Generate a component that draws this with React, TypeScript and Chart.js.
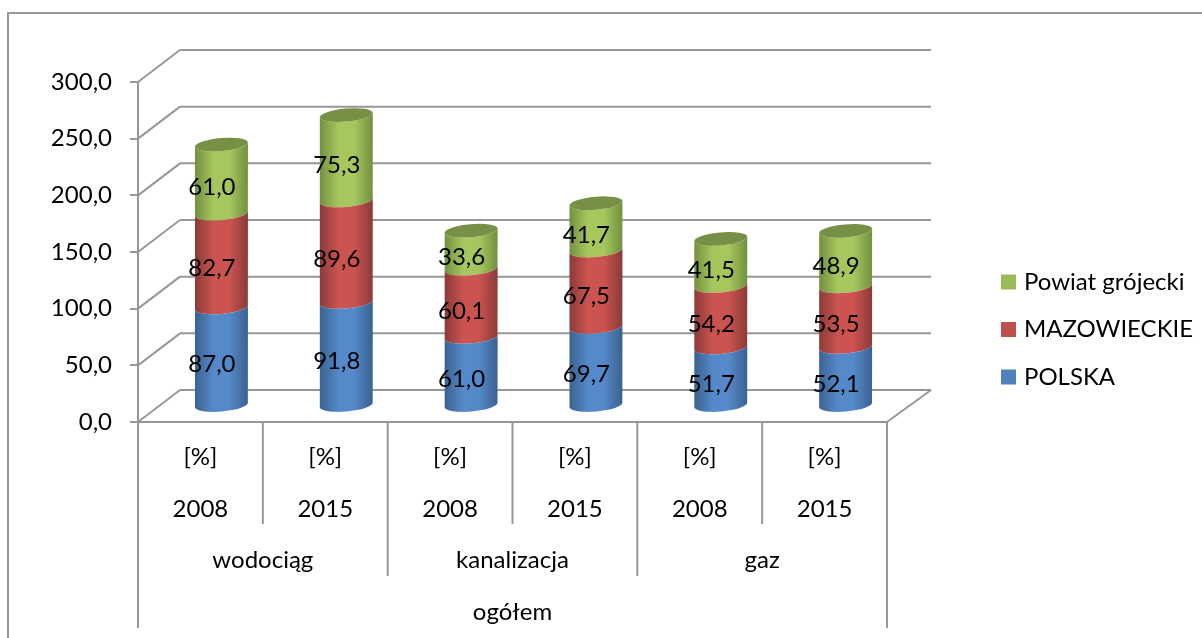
import React, { useEffect, useRef } from "react";
import { Chart, registerables } from "chart.js";

Chart.register(...registerables);

const years = ["2008", "2015", "2008", "2015", "2008", "2015"];
const unitLabel = "[%]";
const groups = ["wodociąg", "kanalizacja", "gaz"];
const outerGroup = "ogółem";
const polska = [87.0, 91.8, 61.0, 69.7, 51.7, 52.1];
const mazowieckie = [82.7, 89.6, 60.1, 67.5, 54.2, 53.5];
const powiat = [61.0, 75.3, 33.6, 41.7, 41.5, 48.9];

const FONT = "Lato, Carlito, sans-serif";
const FONT_SIZE = 24;
const GRAY = "#979797";
const DEPTH_X = 42;
const DEPTH_Y = 32;
const TILT = (-5 * Math.PI) / 180;
const RY = 6.5;

const shades = [
  { edge: "#39628f", mid: "#5589c9" },
  { edge: "#8b3a38", mid: "#cb5450" },
  { edge: "#72903f", mid: "#a5c75e" },
];
const capColor = "#769145";

const fmt = (v: number) => v.toFixed(1).replace(".", ",");

function line(ctx: CanvasRenderingContext2D, x1: number, y1: number, x2: number, y2: number) {
  ctx.beginPath();
  ctx.moveTo(x1, y1);
  ctx.lineTo(x2, y2);
  ctx.stroke();
}

const scene = {
  id: "scene",
  afterLayout(chart: any) {
    const lg = chart.legend;
    if (lg) {
      const pad = lg.options.labels.padding;
      lg.left = 1005 - pad;
      lg.right = 1195;
      lg.top = 282 - FONT_SIZE / 2 - pad;
      lg.bottom = 420;
    }
  },
  beforeDraw(chart: any) {
    const { ctx } = chart;
    ctx.save();
    ctx.strokeStyle = GRAY;
    ctx.lineWidth = 2;
    ctx.beginPath();
    ctx.moveTo(8, 638);
    ctx.lineTo(8, 13);
    ctx.lineTo(1202, 13);
    ctx.stroke();
    ctx.restore();
  },
  beforeDatasetsDraw(chart: any) {
    const { ctx, scales } = chart;
    const { x: xs, y: ys } = scales;
    const left = xs.left;
    const right = xs.right;
    const bottom = ys.bottom;

    ctx.save();
    ctx.strokeStyle = GRAY;
    ctx.lineWidth = 2;
    // back wall and side wall
    ys.ticks.forEach((t: any) => {
      const y = ys.getPixelForValue(t.value);
      line(ctx, left, y, left + DEPTH_X, y - DEPTH_Y);
      line(ctx, left + DEPTH_X, y - DEPTH_Y, right + DEPTH_X + 2, y - DEPTH_Y);
    });
    // floor
    line(ctx, right, bottom, right + DEPTH_X + 2, bottom - DEPTH_Y);
    // category dividers
    const unit = (right - left) / years.length;
    for (let i = 1; i < years.length; i++) {
      const x = left + unit * i;
      line(ctx, x, bottom, x, i % 2 === 0 ? 576 : 524);
    }
    line(ctx, left, bottom, left, 628);
    line(ctx, right, bottom, right, 628);
    line(ctx, left, bottom, right, bottom);
    ctx.restore();

    // group labels
    ctx.save();
    ctx.fillStyle = "#000";
    ctx.font = `${FONT_SIZE}px ${FONT}`;
    ctx.textAlign = "center";
    ctx.textBaseline = "middle";
    groups.forEach((g, i) => {
      ctx.fillText(g, left + unit * (2 * i + 1), 560);
    });
    ctx.fillText(outerGroup, (left + right) / 2, 612);
    ctx.restore();

    // cylinders: top series first, so lower ones overlap their arc
    for (let d = chart.data.datasets.length - 1; d >= 0; d--) {
      const meta = chart.getDatasetMeta(d);
      meta.data.forEach((el: any) => {
        const cx = el.x + DEPTH_X / 2;
        const rx = el.width / 2;
        const top = el.y - DEPTH_Y / 2;
        const base = el.base - DEPTH_Y / 2;
        const dy = rx * Math.sin(TILT);
        const grad = ctx.createLinearGradient(cx - rx, 0, cx + rx, 0);
        grad.addColorStop(0, shades[d].edge);
        grad.addColorStop(0.35, shades[d].mid);
        grad.addColorStop(0.65, shades[d].mid);
        grad.addColorStop(1, shades[d].edge);
        ctx.save();
        ctx.fillStyle = grad;
        ctx.beginPath();
        ctx.ellipse(cx, base, rx, RY, TILT, Math.PI, 0, true);
        ctx.lineTo(cx + rx, top + dy);
        ctx.ellipse(cx, top, rx, RY, TILT, 0, Math.PI, false);
        ctx.closePath();
        ctx.fill();
        if (d === chart.data.datasets.length - 1) {
          ctx.fillStyle = capColor;
          ctx.beginPath();
          ctx.ellipse(cx, top, rx, RY, TILT, 0, Math.PI * 2);
          ctx.fill();
        }
        ctx.restore();
      });
    }

    // data labels
    ctx.save();
    ctx.fillStyle = "#000";
    ctx.font = `${FONT_SIZE}px ${FONT}`;
    ctx.textAlign = "center";
    ctx.textBaseline = "middle";
    chart.data.datasets.forEach((ds: any, d: number) => {
      chart.getDatasetMeta(d).data.forEach((el: any, i: number) => {
        const mid = (el.y + el.base) / 2 - DEPTH_Y / 2 + 8;
        ctx.fillText(fmt(ds.data[i]), el.x + DEPTH_X / 2 - 9.5, mid);
      });
    });
    ctx.restore();
    return false;
  },
};

export default function App() {
  const ref = useRef<HTMLCanvasElement>(null);
  useEffect(() => {
    const chart = new Chart(ref.current as HTMLCanvasElement, {
      type: "bar",
      plugins: [scene],
      data: {
        labels: years.map((y) => [unitLabel, y]),
        datasets: [
          { label: "POLSKA", data: polska, backgroundColor: "#4F81BD" },
          { label: "MAZOWIECKIE", data: mazowieckie, backgroundColor: "#C0504D" },
          { label: "Powiat grójecki", data: powiat, backgroundColor: "#9BBB59" },
        ],
      },
      options: {
        responsive: false,
        animation: false,
        devicePixelRatio: 1,
        layout: { padding: { left: 0, top: 82, right: 315, bottom: 0 } },
        datasets: { bar: { categoryPercentage: 1, barPercentage: 0.425 } },
        scales: {
          x: {
            stacked: true,
            grid: { display: false },
            border: { display: false },
            afterFit: (s: any) => {
              s.height = 216;
            },
            ticks: {
              color: "#000",
              maxRotation: 0,
              autoSkip: false,
              padding: 1,
              font: { family: FONT, size: FONT_SIZE, lineHeight: 52 / FONT_SIZE },
            },
          },
          y: {
            stacked: true,
            min: 0,
            max: 300,
            afterFit: (s: any) => {
              s.width = 138;
            },
            grid: { drawOnChartArea: false, color: GRAY, lineWidth: 2, tickLength: 8 },
            border: { color: GRAY, width: 2 },
            ticks: {
              stepSize: 50,
              color: "#000",
              padding: 18,
              font: { family: FONT, size: FONT_SIZE },
              callback: (v: any) => fmt(Number(v)),
            },
          },
        },
        plugins: {
          tooltip: { enabled: false },
          title: { display: false },
          legend: {
            position: "chartArea",
            align: "start",
            reverse: true,
            labels: {
              usePointStyle: true,
              pointStyle: "rect",
              boxWidth: 7,
              boxHeight: 15,
              padding: 23.5,
              color: "#000",
              font: { family: FONT, size: FONT_SIZE },
            },
          },
        },
      },
    } as any);
    return () => chart.destroy();
  }, []);
  return (
    <div style={{ position: "absolute", left: 0, top: 0, width: 1202, height: 638, background: "#fff" }}>
      <canvas ref={ref} width={1202} height={638} style={{ display: "block" }} />
    </div>
  );
}
